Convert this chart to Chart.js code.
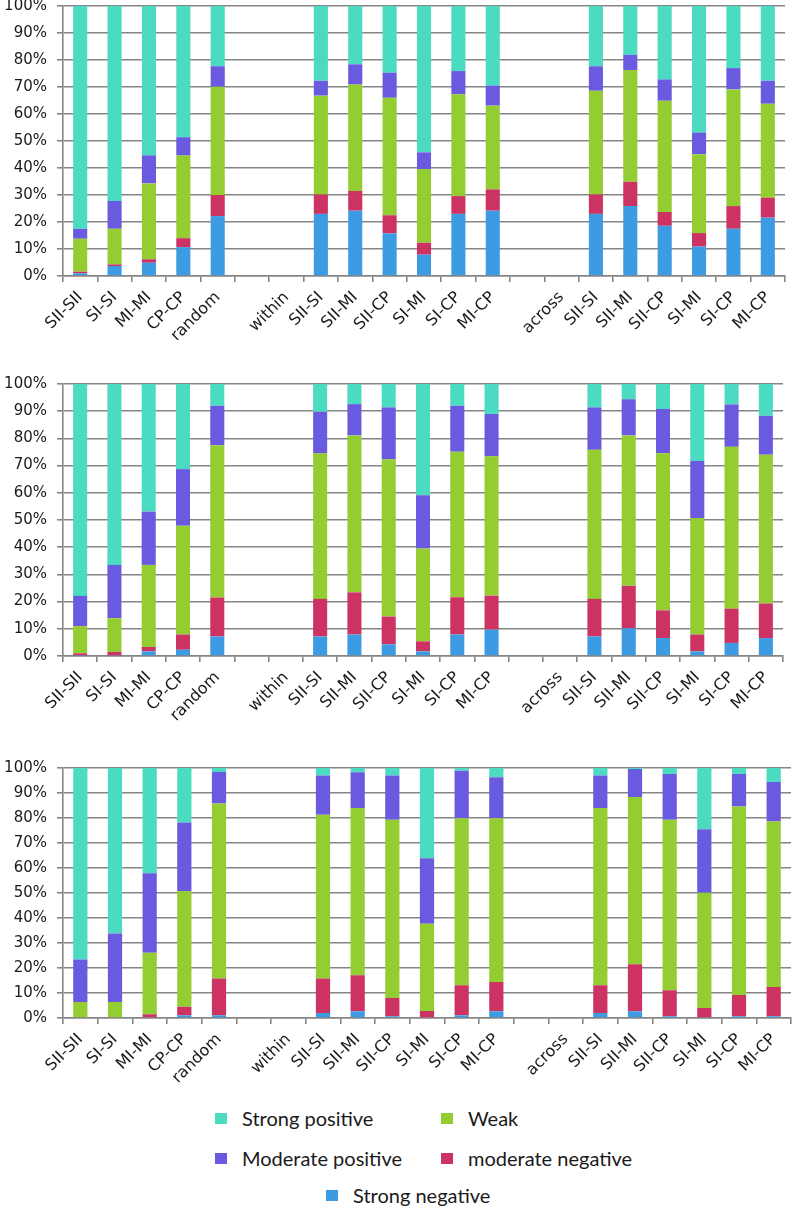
<!DOCTYPE html>
<html>
<head>
<meta charset="utf-8">
<script src="https://cdn.jsdelivr.net/npm/chart.js@4.4.1/dist/chart.umd.min.js"></script>
<style>
  body { margin: 0; background: #fff; width: 792px; height: 1208px; position: relative; overflow: hidden; }
  .panel { position: absolute; left: 0; width: 792px; }
  .legend { position: absolute; font-family: Lato, sans-serif; font-size: 20px; color: #1a1a1a; }
  .legend span.sw { position: absolute; width: 12px; height: 11px; }
  .legend span.tx { position: absolute; white-space: nowrap; line-height: 22px; }
</style>
</head>
<body>
<canvas id="chart1" class="panel"></canvas>
<canvas id="chart2" class="panel"></canvas>
<canvas id="chart3" class="panel"></canvas>
<div id="legend" class="legend"></div>

<script>
// categories (blank slots and the group labels carry no bars)
const categories = ['SII-SII', 'SI-SI', 'MI-MI', 'CP-CP', 'random', '', 'within',
  'SII-SI', 'SII-MI', 'SII-CP', 'SI-MI', 'SI-CP', 'MI-CP', '', 'across',
  'SII-SI', 'SII-MI', 'SII-CP', 'SI-MI', 'SI-CP', 'MI-CP'];
const yTicks = [0, 10, 20, 30, 40, 50, 60, 70, 80, 90, 100];
const seriesNames = ['Strong negative', 'moderate negative', 'Weak', 'Moderate positive', 'Strong positive'];
const seriesColors = ['#3d9be3', '#cc3363', '#93cd31', '#6a5ae0', '#4adbc1'];
const _ = null;

// panel 1
const p1StrongNeg = [1.0, 3.7, 4.9, 10.7, 22.2, _, _, 23.0, 24.2, 15.8, 7.9, 23.0, 24.2, _, _, 23.0, 25.9, 18.6, 10.9, 17.5, 21.6];
const p1ModNeg    = [0.6, 0.6, 1.3, 3.3, 7.8, _, _, 7.2, 7.3, 6.7, 4.4, 6.6, 7.9, _, _, 7.2, 9.0, 5.1, 5.0, 8.4, 7.4];
const p1Weak      = [12.2, 13.2, 28.1, 30.6, 40.1, _, _, 36.6, 39.4, 43.5, 27.3, 37.7, 31.0, _, _, 38.4, 41.4, 41.2, 29.2, 43.2, 34.8];
const p1ModPos    = [3.7, 10.3, 10.4, 6.8, 7.6, _, _, 5.5, 7.5, 9.3, 6.2, 8.6, 7.4, _, _, 9.1, 5.6, 7.9, 8.0, 7.9, 8.5];
const p1StrongPos = [82.5, 72.2, 55.3, 48.6, 22.3, _, _, 27.7, 21.6, 24.7, 54.2, 24.1, 29.5, _, _, 22.3, 18.1, 27.2, 46.9, 23.0, 27.7];

// panel 2
const p2StrongNeg = [0.2, 0.2, 1.7, 2.3, 7.2, _, _, 7.2, 7.9, 4.3, 1.7, 7.9, 9.7, _, _, 7.2, 10.2, 6.6, 1.7, 4.8, 6.6];
const p2ModNeg    = [0.8, 1.3, 1.6, 5.6, 14.3, _, _, 13.8, 15.5, 10.2, 3.7, 13.7, 12.5, _, _, 13.8, 15.6, 10.2, 6.2, 12.6, 12.7];
const p2Weak      = [10.0, 12.4, 30.2, 40.0, 56.0, _, _, 53.5, 57.7, 57.8, 34.1, 53.5, 51.2, _, _, 54.8, 55.3, 57.7, 42.8, 59.5, 54.7];
const p2ModPos    = [11.1, 19.6, 19.6, 20.8, 14.5, _, _, 15.3, 11.5, 19.1, 19.6, 16.9, 15.6, _, _, 15.6, 13.3, 16.3, 21.0, 15.6, 14.3];
const p2StrongPos = [77.9, 66.5, 46.9, 31.3, 8.0, _, _, 10.2, 7.4, 8.6, 40.9, 8.0, 11.0, _, _, 8.6, 5.6, 9.2, 28.3, 7.5, 11.7];

// panel 3
const p3StrongNeg = [0, 0, 0, 1.1, 1.1, _, _, 2.0, 2.7, 0.7, 0, 1.1, 2.7, _, _, 2.0, 2.7, 0.7, 0, 0.7, 0.7];
const p3ModNeg    = [0, 0, 1.5, 3.4, 14.7, _, _, 13.8, 14.4, 7.3, 2.8, 12.0, 11.7, _, _, 11.1, 18.8, 10.4, 4.0, 8.5, 11.7];
const p3Weak      = [6.4, 6.4, 24.6, 46.3, 70.0, _, _, 65.5, 66.9, 71.3, 34.9, 66.8, 65.5, _, _, 70.9, 66.9, 68.2, 46.1, 75.4, 66.2];
const p3ModPos    = [17.0, 27.4, 31.8, 27.4, 12.6, _, _, 15.7, 14.3, 17.7, 26.2, 19.0, 16.4, _, _, 13.0, 11.2, 18.3, 25.4, 13.0, 15.8];
const p3StrongPos = [76.6, 66.2, 42.1, 21.8, 1.6, _, _, 3.0, 1.7, 3.0, 36.1, 1.1, 3.7, _, _, 3.0, 0.4, 2.4, 24.5, 2.4, 5.6];

const GRID = '#858585';
const TEXT = '#1a1a1a';
const AXIS_FONT = "'DejaVu Sans', sans-serif";

function makePanel(id, top, height, padTop, padRight, xAxisHeight, series) {
  const canvas = document.getElementById(id);
  canvas.style.top = top + 'px';
  canvas.style.height = height + 'px';
  canvas.width = 792;
  canvas.height = height;

  return new Chart(canvas.getContext('2d'), {
    type: 'bar',
    data: {
      labels: categories,
      datasets: series.map((values, i) => ({
        label: seriesNames[i],
        data: values,
        backgroundColor: seriesColors[i],
        borderWidth: 0,
        categoryPercentage: 1,
        barPercentage: 0.41
      }))
    },
    options: {
      responsive: false,
      animation: false,
      layout: { autoPadding: false, padding: { top: padTop, right: padRight, left: 0, bottom: 0 } },
      plugins: { legend: { display: false }, tooltip: { enabled: false } },
      scales: {
        x: {
          stacked: true,
          afterFit: (scale) => {
            scale.height = xAxisHeight;
            scale.paddingLeft = 0; scale.paddingRight = 0;
          },
          grid: { offset: true, drawOnChartArea: false, drawTicks: true, tickLength: 6, color: GRID, lineWidth: 1.6 },
          border: { color: GRID, width: 1.6 },
          ticks: {
            autoSkip: false, minRotation: 45, maxRotation: 45, padding: 6,
            color: TEXT, font: { family: AXIS_FONT, size: 16 }
          }
        },
        y: {
          stacked: true,
          min: 0,
          max: 100,
          afterFit: (scale) => {
            scale.width = 63;
            scale.paddingTop = 0; scale.paddingBottom = 0;
          },
          afterBuildTicks: (scale) => { scale.ticks = yTicks.map(v => ({ value: v })); },
          grid: { color: GRID, lineWidth: 1.6, tickLength: 6 },
          border: { color: GRID, width: 1.6 },
          ticks: {
            padding: 10,
            color: TEXT,
            font: { family: AXIS_FONT, size: 15 },
            callback: (v) => v + '%'
          }
        }
      }
    }
  });
}

makePanel('chart1', 0, 340, 6, 7, 64,
  [p1StrongNeg, p1ModNeg, p1Weak, p1ModPos, p1StrongPos]);
makePanel('chart2', 340, 390, 44, 9, 74,
  [p2StrongNeg, p2ModNeg, p2Weak, p2ModPos, p2StrongPos]);
makePanel('chart3', 740, 360, 28, 1, 82,
  [p3StrongNeg, p3ModNeg, p3Weak, p3ModPos, p3StrongPos]);

// legend laid out like the original: two columns, last entry centred
const legendSpots = [
  { i: 4, x: 215, y: 1113 },
  { i: 2, x: 441, y: 1113 },
  { i: 3, x: 215, y: 1153 },
  { i: 1, x: 441, y: 1153 },
  { i: 0, x: 326, y: 1190 }
];
const legend = document.getElementById('legend');
legendSpots.forEach(spot => {
  const sw = document.createElement('span');
  sw.className = 'sw';
  sw.style.left = spot.x + 'px';
  sw.style.top = spot.y + 'px';
  sw.style.background = seriesColors[spot.i];
  legend.appendChild(sw);
  const tx = document.createElement('span');
  tx.className = 'tx';
  tx.style.left = (spot.x + 27) + 'px';
  tx.style.top = (spot.y - 6) + 'px';
  tx.textContent = seriesNames[spot.i];
  legend.appendChild(tx);
});
</script>
</body>
</html>
